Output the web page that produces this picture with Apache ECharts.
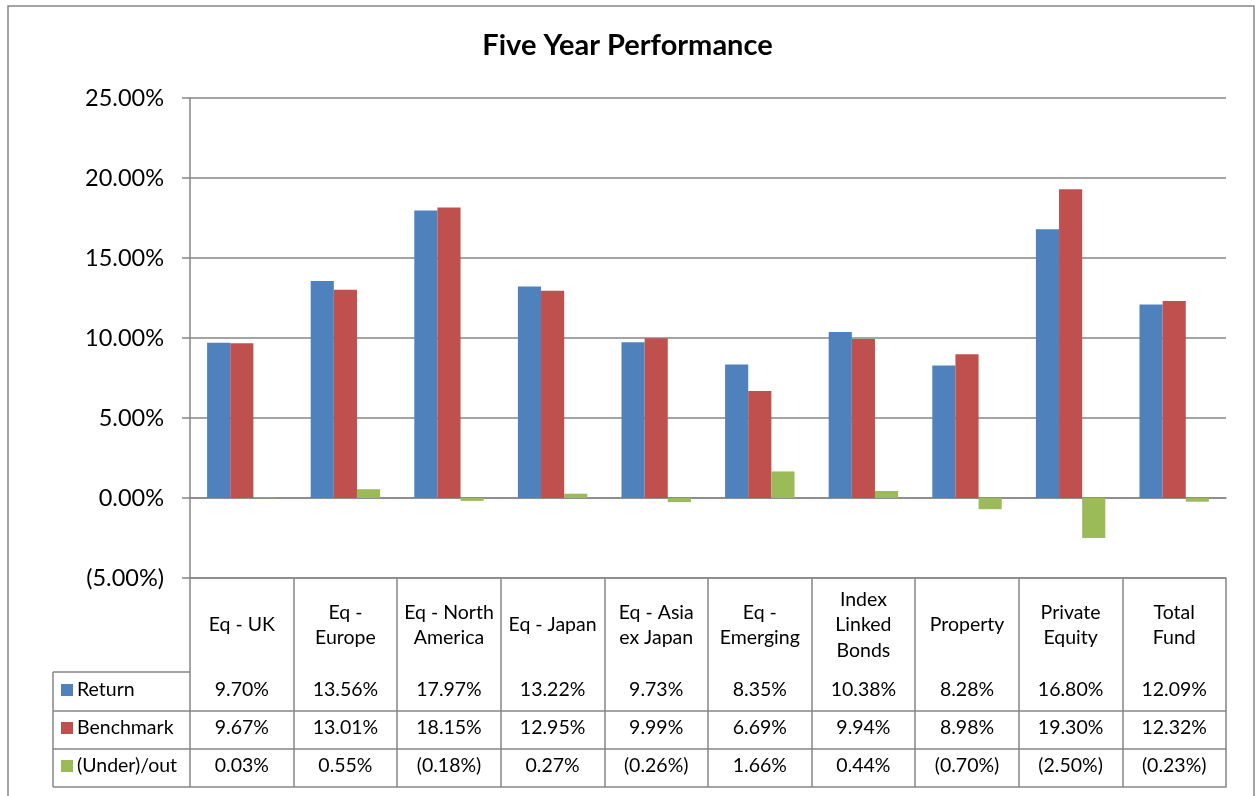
<!DOCTYPE html>
<html>
<head>
<meta charset="utf-8">
<script src="https://cdn.jsdelivr.net/npm/echarts@6/dist/echarts.min.js"></script>
<style>
html,body{margin:0;padding:0;background:#fff;}
#main{width:1255px;height:796px;}
</style>
</head>
<body>
<div id="main"></div>
<script>
const categories = ['Eq - UK','Eq -\nEurope','Eq - North\nAmerica','Eq - Japan','Eq - Asia\nex Japan','Eq -\nEmerging','Index\nLinked\nBonds','Property','Private\nEquity','Total\nFund'];
const returnValues = [9.70, 13.56, 17.97, 13.22, 9.73, 8.35, 10.38, 8.28, 16.80, 12.09];
const benchmarkValues = [9.67, 13.01, 18.15, 12.95, 9.99, 6.69, 9.94, 8.98, 19.30, 12.32];
const underOutValues = [0.03, 0.55, -0.18, 0.27, -0.26, 1.66, 0.44, -0.70, -2.50, -0.23];
const seriesNames = ['Return', 'Benchmark', '(Under)/out'];
const yTicks = { min: -5, max: 25, interval: 5 };

function pct(v) {
  return v < 0 ? '(' + Math.abs(v).toFixed(2) + '%)' : v.toFixed(2) + '%';
}

const FONT = 'Lato';
const GRAY = '#868686';
const LW = 1.5;
const TFS = 19.5;

const chart = echarts.init(document.getElementById('main'), null, { renderer: 'canvas' });

function rowAxis(offset, values, margin) {
  return {
    type: 'category', gridIndex: 0, position: 'bottom', offset: offset,
    data: categories,
    axisLine: { show: true, lineStyle: { color: GRAY, width: LW } },
    axisTick: { show: false },
    axisLabel: values ? {
      show: true, interval: 0, margin: margin, verticalAlign: 'middle',
      fontFamily: FONT, fontSize: TFS, color: '#000',
      formatter: (v, i) => pct(values[i])
    } : { show: false },
    splitLine: { show: false }
  };
}

const option = {
  backgroundColor: '#fff',
  animation: false,
  title: {
    text: 'Five Year Performance', left: 'center', top: 30, padding: 0,
    textStyle: { fontFamily: FONT, fontWeight: 'bold', fontSize: 29, lineHeight: 32, color: '#000' }
  },
  legend: {
    orient: 'vertical', left: 61, top: 679, padding: 0, itemGap: 16,
    itemWidth: 12, itemHeight: 12, icon: 'rect',
    selectedMode: false,
    data: seriesNames,
    textStyle: { fontFamily: FONT, fontSize: TFS, lineHeight: 22, color: '#000', padding: [0, 0, 0, -1] }
  },
  grid: { left: 190, right: 29, top: 98, bottom: 218, containLabel: false },
  xAxis: [
    {
      type: 'category', gridIndex: 0, position: 'bottom', data: categories,
      axisLine: { show: true, onZero: false, lineStyle: { color: GRAY, width: LW } },
      axisTick: { show: true, interval: 0, length: 209, lineStyle: { color: GRAY, width: LW } },
      axisLabel: {
        show: true, interval: 0, margin: 47, verticalAlign: 'middle',
        fontFamily: FONT, fontSize: TFS, lineHeight: 25.5, color: '#000', align: 'center'
      },
      splitLine: { show: false }
    },
    rowAxis(94, returnValues, 18),
    rowAxis(133, benchmarkValues, 17),
    rowAxis(171, underOutValues, 17),
    rowAxis(209, null, 0)
  ],
  yAxis: {
    type: 'value', min: yTicks.min, max: yTicks.max, interval: yTicks.interval,
    axisLine: { show: true, lineStyle: { color: GRAY, width: LW } },
    axisTick: { show: true, length: 8, lineStyle: { color: GRAY, width: LW } },
    axisLabel: { margin: 26, fontFamily: FONT, fontSize: 23.5, color: '#000', formatter: v => pct(v) },
    splitLine: { show: true, lineStyle: { color: GRAY, width: LW } }
  },
  series: [
    { name: seriesNames[0], type: 'bar', data: returnValues, itemStyle: { color: '#4F81BD' }, barGap: '0%', barCategoryGap: '33%' },
    { name: seriesNames[1], type: 'bar', data: benchmarkValues, itemStyle: { color: '#C0504D' }, barGap: '0%', barCategoryGap: '33%' },
    { name: seriesNames[2], type: 'bar', data: underOutValues, itemStyle: { color: '#9BBB59' }, barGap: '0%', barCategoryGap: '33%' }
  ],
  graphic: [
    { type: 'rect', silent: true, shape: { x: 8, y: 6, width: 1246, height: 820 }, style: { fill: null, stroke: GRAY, lineWidth: LW } },
    { type: 'line', silent: true, shape: { x1: 53, y1: 672, x2: 53, y2: 787 }, style: { stroke: GRAY, lineWidth: LW } },
    { type: 'line', silent: true, shape: { x1: 53, y1: 672, x2: 190, y2: 672 }, style: { stroke: GRAY, lineWidth: LW } },
    { type: 'line', silent: true, shape: { x1: 53, y1: 711, x2: 190, y2: 711 }, style: { stroke: GRAY, lineWidth: LW } },
    { type: 'line', silent: true, shape: { x1: 53, y1: 749, x2: 190, y2: 749 }, style: { stroke: GRAY, lineWidth: LW } },
    { type: 'line', silent: true, shape: { x1: 53, y1: 787, x2: 190, y2: 787 }, style: { stroke: GRAY, lineWidth: LW } }
  ]
};
chart.setOption(option);
</script>
</body>
</html>
